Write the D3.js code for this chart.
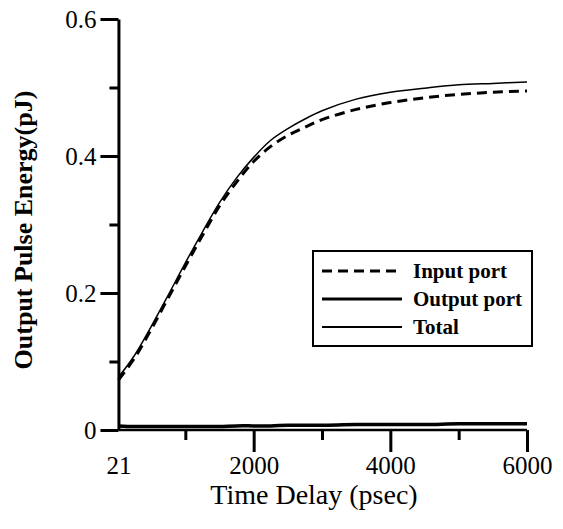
<!DOCTYPE html>
<html>
<head>
<meta charset="utf-8">
<script src="https://cdn.jsdelivr.net/npm/d3@7"></script>
<style>
  body { margin: 0; background: #fff; }
  svg { display: block; }
  text { font-family: "Liberation Serif", "Times New Roman", serif; fill: #000; }
</style>
</head>
<body>
<div id="chart"></div>
<script>
// time delay (psec)
const delays = [21, 250, 500, 750, 1000, 1250, 1500, 1750, 2000, 2250, 2500, 2750, 3000, 3500, 4000, 4500, 5000, 5500, 6000];
// output pulse energy (pJ)
const inputPort  = [0.073, 0.104, 0.147, 0.193, 0.239, 0.284, 0.327, 0.362, 0.392, 0.414, 0.430, 0.442, 0.453, 0.468, 0.478, 0.485, 0.490, 0.493, 0.495];
const outputPort = [0.006, 0.005, 0.005, 0.005, 0.005, 0.005, 0.005, 0.006, 0.006, 0.006, 0.007, 0.007, 0.007, 0.008, 0.008, 0.008, 0.009, 0.009, 0.009];
const total      = [0.077, 0.108, 0.151, 0.197, 0.244, 0.289, 0.332, 0.368, 0.398, 0.423, 0.440, 0.454, 0.466, 0.483, 0.493, 0.499, 0.504, 0.506, 0.508];

const xMajor = [21, 2000, 4000, 6000];
const xMinor = [1000, 3000, 5000];
const yMajor = [0, 0.2, 0.4, 0.6];
const yMinor = [0.1, 0.3, 0.5];

const legendItems = [
    { label: "Input port", values: inputPort, dash: "10,6", width: 3 },
    { label: "Output port", values: outputPort, dash: null, width: 3.5 },
    { label: "Total", values: total, dash: null, width: 1.5 }
];

const W = 563, H = 529;
const serif = "'Liberation Serif', 'Times New Roman', serif";

const svg = d3.select("#chart").append("svg")
    .attr("width", W)
    .attr("height", H);

const x = d3.scaleLinear().domain([0, 6000]).range([117, 527]);
const y = d3.scaleLinear().domain([0, 0.6]).range([430, 19]);

// ----- axes -----
const yAxis = svg.append("g")
    .attr("transform", `translate(${x(21)},0)`)
    .call(d3.axisLeft(y).tickValues(yMajor).tickSize(18).tickSizeOuter(0).tickPadding(4)
        .tickFormat(d => d === 0 ? "0" : d3.format(".1f")(d)));
svg.append("g")
    .attr("transform", `translate(${x(21)},0)`)
    .call(d3.axisLeft(y).tickValues(yMinor).tickSize(9).tickSizeOuter(0).tickFormat(""))
    .select(".domain").remove();

const xAxis = svg.append("g")
    .attr("transform", `translate(0,${y(0)})`)
    .call(d3.axisBottom(x).tickValues(xMajor).tickSize(22).tickSizeOuter(0).tickPadding(4)
        .tickFormat(d3.format("d")));
xAxis.selectAll(".tick").filter(d => d === 21).select("line").remove();
svg.append("g")
    .attr("transform", `translate(0,${y(0)})`)
    .call(d3.axisBottom(x).tickValues(xMinor).tickSize(10).tickSizeOuter(0).tickFormat(""))
    .select(".domain").remove();

// domain only from 21 to 6000
xAxis.select(".domain").attr("d", `M${x(21)},0H${x(6000)}`);

svg.selectAll("g").attr("font-family", serif);
svg.selectAll(".domain").attr("stroke", "#000").attr("stroke-width", 3);
xAxis.select(".domain").attr("stroke-width", 2.5);
svg.selectAll(".tick line").attr("stroke", "#000").attr("stroke-width", 3);
svg.selectAll(".tick text")
    .style("font-size", "25px")
    .style("font-family", serif)
    .attr("fill", "#000");

// axis titles
svg.append("text")
    .attr("x", 314)
    .attr("y", 504)
    .attr("text-anchor", "middle")
    .style("font-size", "28px")
    .text("Time Delay (psec)");

svg.append("text")
    .attr("transform", "translate(32,230) rotate(-90)")
    .attr("text-anchor", "middle")
    .style("font-size", "26px")
    .style("font-weight", "bold")
    .text("Output Pulse Energy(pJ)");

// ----- curves -----
const line = d3.line()
    .x((d, i) => x(delays[i]))
    .y(d => y(d))
    .curve(d3.curveCatmullRom.alpha(0.5));

legendItems.forEach(s => {
    svg.append("path")
        .datum(s.values)
        .attr("d", line)
        .attr("fill", "none")
        .attr("stroke", "#000")
        .attr("stroke-width", s.width)
        .attr("stroke-dasharray", s.dash);
});

// ----- legend -----
const legend = svg.append("g");
legend.append("rect")
    .attr("x", 313).attr("y", 251)
    .attr("width", 219).attr("height", 95)
    .attr("fill", "#fff")
    .attr("stroke", "#000")
    .attr("stroke-width", 2);

legendItems.forEach((s, i) => {
    const cy = 271 + i * 28;
    legend.append("line")
        .attr("x1", 322).attr("x2", 402)
        .attr("y1", cy).attr("y2", cy)
        .attr("stroke", "#000")
        .attr("stroke-width", s.width === 1.5 ? 2 : 3)
        .attr("stroke-dasharray", s.dash);
    legend.append("text")
        .attr("x", 413)
        .attr("y", cy + 7)
        .style("font-size", "21px")
        .style("font-weight", "bold")
        .text(s.label);
});
</script>
</body>
</html>
